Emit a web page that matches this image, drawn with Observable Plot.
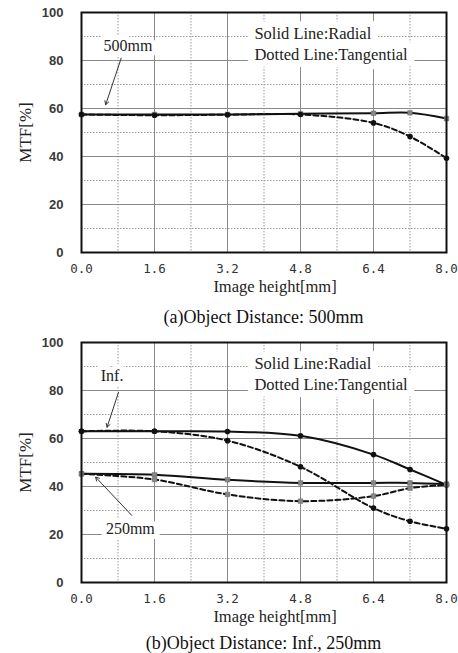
<!DOCTYPE html>
<html><head><meta charset="utf-8">
<script src="https://cdn.jsdelivr.net/npm/d3@7"></script>
<script src="https://cdn.jsdelivr.net/npm/@observablehq/plot@0.6"></script>
<style>
body{margin:0;background:#fff;}
#wrap{position:relative;width:458px;height:653px;overflow:hidden;background:#fff;}
#wrap svg{position:absolute;left:0;}
.cap{position:absolute;left:0;width:458px;box-sizing:border-box;padding-left:81px;padding-right:12px;text-align:center;font-family:"Liberation Serif","Times New Roman",serif;font-size:18px;line-height:20px;color:#111;white-space:nowrap;}
</style></head><body><div id="wrap"></div>
<script>
// image heights (mm) where MTF was sampled
const heights = [0, 1.6, 3.2, 4.8, 6.4, 7.2, 8.0];
// (a) object distance 500mm
const radial500 = [57.5, 57.5, 57.5, 57.8, 58.0, 58.2, 55.8];
const tangential500 = [57.5, 57.2, 57.4, 57.5, 54.0, 48.3, 39.3];
// (b) object distance Inf. and 250mm
const radialInf = [63.0, 63.0, 62.9, 61.1, 53.3, 47.1, 40.7];
const tangentialInf = [63.0, 63.0, 59.1, 48.2, 31.0, 25.5, 22.4];
const radial250 = [45.3, 44.9, 42.8, 41.5, 41.5, 41.5, 41.0];
const tangential250 = [45.3, 42.9, 36.7, 33.9, 36.0, 39.3, 40.7];

const xTicks = [0, 1.6, 3.2, 4.8, 6.4, 8.0];
const xMinor = [0.8, 2.4, 4.0, 5.6, 7.2];
const yTicks = [0, 20, 40, 60, 80, 100];
const yMinor = [10, 30, 50, 70, 90];
const legendLines = ["Solid Line:Radial", "Dotted Line:Tangential"];
const legendPos = [{x: 3.79, y: 91}, {x: 3.79, y: 82.3}];
const xLabel = "Image height[mm]";
const yLabel = "MTF[%]";
const captionA = "(a)Object Distance: 500mm";
const captionB = "(b)Object Distance: Inf., 250mm";

const notesA = [{text: "500mm", x: 1.02, y: 86.1}];
const arrowsA = [{x1: 0.87, y1: 81.0, x2: 0.53, y2: 61.6}];
const notesB = [{text: "Inf.", x: 0.67, y: 85.9}, {text: "250mm", x: 1.07, y: 22.2}];
const arrowsB = [{x1: 0.81, y1: 79.2, x2: 0.56, y2: 64.7}, {x1: 1.10, y1: 28.0, x2: 0.31, y2: 43.9}];

const serif = "'Liberation Serif','Times New Roman',serif";

function rows(values, marker) {
  return heights.map((h, i) => ({h, v: values[i], marker}));
}

function chart(series, notes, arrows) {
  const marks = [
    Plot.ruleX(xMinor, {stroke: "#9a9a9a", strokeWidth: 1, strokeDasharray: "1.5,1.5"}),
    Plot.ruleY(yMinor, {stroke: "#9a9a9a", strokeWidth: 1, strokeDasharray: "1.5,1.5"}),
    Plot.ruleX(xTicks, {stroke: "#8a8a8a", strokeWidth: 1}),
    Plot.ruleY(yTicks, {stroke: "#8a8a8a", strokeWidth: 1}),
    Plot.text(legendLines, {x: (d, i) => legendPos[i].x, y: (d, i) => legendPos[i].y, text: d => d,
      textAnchor: "start", fontFamily: serif, fontSize: 16.5, fill: "#222", stroke: "white", strokeWidth: 14}),
    Plot.text(notes, {x: "x", y: "y", text: "text", fontFamily: serif, fontSize: 16, fill: "#222", stroke: "white", strokeWidth: 10})
  ];
  for (const s of series) {
    const data = rows(s.values, s.marker);
    marks.push(Plot.line(data, {x: "h", y: "v", curve: "catmull-rom", stroke: "#111", strokeWidth: 2,
      strokeDasharray: s.dashed ? "5,3" : null}));
    if (s.marker === "square") {
      marks.push(Plot.dot(data, {x: "h", y: "v", symbol: "square", r: 2.6, fill: "#888", stroke: "#666", strokeWidth: 0.5}));
    } else {
      marks.push(Plot.dot(data, {x: "h", y: "v", r: 2.8, fill: "#111"}));
    }
  }
  marks.push(
    Plot.arrow(arrows, {x1: "x1", y1: "y1", x2: "x2", y2: "y2", stroke: "#333", strokeWidth: 1, headLength: 6}),
    Plot.frame({stroke: "#111", strokeWidth: 2}),
    Plot.axisX({ticks: xTicks, tickFormat: d => d.toFixed(1), tickSize: 0, tickPadding: 12, label: null,
      fontFamily: "'DejaVu Sans Mono',monospace", fontSize: 12.5, fill: "#333"}),
    Plot.axisY({ticks: yTicks, tickSize: 0, tickPadding: 18, label: null,
      fontFamily: "'Liberation Sans',Arial,sans-serif", fontSize: 13, fontWeight: "bold", fill: "#3a3a3a"}),
    Plot.text([xLabel], {frameAnchor: "bottom", lineAnchor: "middle", textAnchor: "middle", dy: 34, dx: 11, text: d => d,
      fontFamily: serif, fontSize: 16.5, fill: "#222"}),
    Plot.text([yLabel], {frameAnchor: "left", lineAnchor: "middle", textAnchor: "middle", dx: -56, rotate: -90, text: d => d,
      fontFamily: serif, fontSize: 17, fill: "#222"})
  );
  return Plot.plot({
    width: 458, height: 300,
    marginTop: 12, marginBottom: 48, marginLeft: 81, marginRight: 12,
    x: {domain: [0, 8]},
    y: {domain: [0, 100]},
    style: {background: "white", overflow: "visible"},
    marks
  });
}

const wrap = document.getElementById("wrap");
const svgA = chart([
  {values: radial500, dashed: false, marker: "square"},
  {values: tangential500, dashed: true, marker: "dot"}
], notesA, arrowsA);
svgA.style.top = "0px";
wrap.appendChild(svgA);

const capA = document.createElement("div");
capA.className = "cap"; capA.style.top = "307px"; capA.textContent = captionA;
wrap.appendChild(capA);

const svgB = chart([
  {values: radialInf, dashed: false, marker: "dot"},
  {values: tangentialInf, dashed: true, marker: "dot"},
  {values: radial250, dashed: false, marker: "square"},
  {values: tangential250, dashed: true, marker: "square"}
], notesB, arrowsB);
svgB.style.top = "330px";
wrap.appendChild(svgB);

const capB = document.createElement("div");
capB.className = "cap"; capB.style.top = "633px"; capB.textContent = captionB;
wrap.appendChild(capB);
</script>
</body></html>
